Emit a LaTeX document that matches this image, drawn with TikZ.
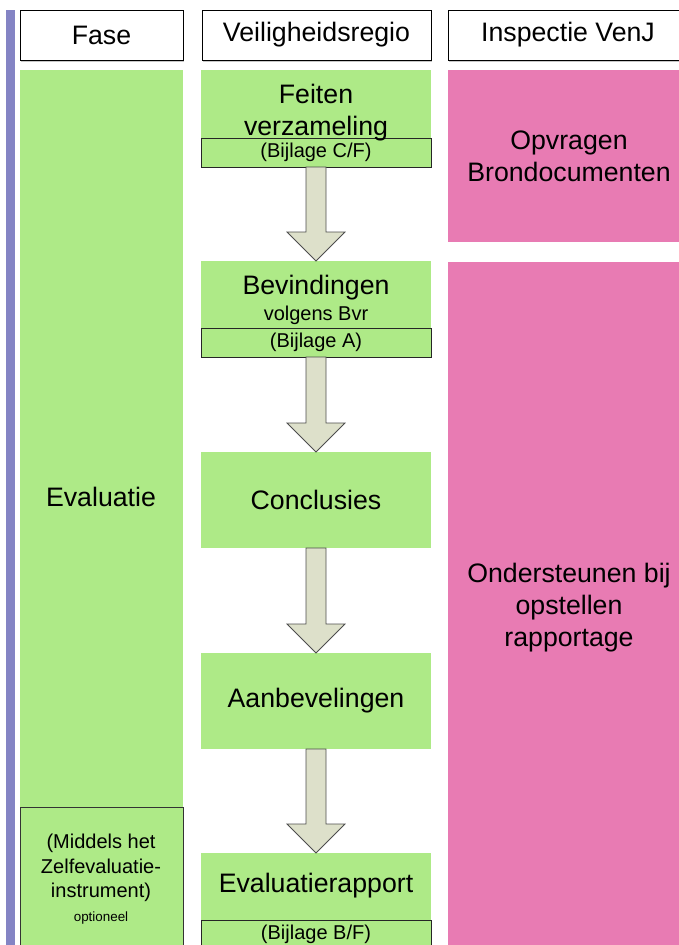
\documentclass[tikz,border=0pt]{standalone}
\usepackage{fontspec}
\setmainfont{Liberation Sans}
\usepackage{tikz}
\usetikzlibrary{positioning,calc}

\definecolor{stepgreen}{HTML}{AEEA87}
\definecolor{inspink}{HTML}{E87BB3}
\definecolor{arrowfill}{HTML}{DDE0CA}
\definecolor{arrowline}{HTML}{4D4D4D}
\definecolor{barpurple}{HTML}{8484C4}

\newcommand{\sizeL}{\fontsize{26.7}{32}\selectfont}
\newcommand{\sizeM}{\fontsize{20}{24.5}\selectfont}
\newcommand{\sizeS}{\fontsize{13.4}{16}\selectfont}

\tikzset{
    every node/.style={inner sep=0pt, outer sep=0pt},
    hdr/.style={draw=black, line width=1pt, fill=white, minimum height=50, anchor=north west, font=\sizeL},
    hdrshadow/.style={draw=black!22, line width=1.2pt},
    greenbox/.style={fill=stepgreen, minimum width=230, anchor=north west},
    subbox/.style={draw=black!85, line width=0.8pt, fill=stepgreen, minimum width=230, minimum height=29, font=\sizeM},
    pinkbox/.style={fill=inspink, minimum width=242, anchor=north west, font=\sizeL, align=center},
    blockarrow/.style={draw=arrowline, fill=arrowfill, line width=0.8pt},
}

\begin{document}
\begin{tikzpicture}[x=1pt, y=-1pt]
    \useasboundingbox (0,0) rectangle (679,945);
    \clip (0,0) rectangle (679,945);

    % side bar
    \path[fill=barpurple] (6,10) rectangle (15,945);

    % column headers
    \node[hdr, minimum width=163] (fase) at (20,10) {Fase};
    \node[hdr, minimum width=229] (regio) at (202,10) {Veiligheidsregio};
    \node[hdr, minimum width=240] (inspectie) at (448,10) {Inspectie VenJ};
    \path[hdrshadow] ($(fase.south west)+(1,1.6)$) -- ($(fase.south east)+(1,1.6)$);
    \path[hdrshadow] ($(regio.south west)+(1,1.6)$) -- ($(regio.south east)+(1,1.6)$);
    \path[hdrshadow] ($(inspectie.south west)+(1,1.6)$) -- ($(inspectie.south east)+(1,1.6)$);

    % fase column
    \node[fill=stepgreen, minimum width=163, minimum height=737, anchor=north west] (fasecol) at (20,70) {};
    \node[draw=black!80, line width=0.8pt, fill=stepgreen, minimum width=163, minimum height=150, below=0pt of fasecol] (middels) {};

    % veiligheidsregio steps
    \node[greenbox, minimum height=68] (feiten) at (201,70) {};
    \node[subbox, below=0pt of feiten] (feitensub) {(Bijlage C/F)};
    \node[greenbox, minimum height=67] (bevind) at (201,261) {};
    \node[subbox, below=0pt of bevind] (bevindsub) {(Bijlage A)};
    \node[greenbox, minimum height=96, font=\sizeL] (concl) at (201,452) {Conclusies};
    \node[greenbox, minimum height=96, font=\sizeL] (aanbev) at (201,653) {Aanbevelingen};
    \node[greenbox, minimum height=67] (evalrap) at (201,853) {};
    \node[subbox, below=0pt of evalrap] (evalrapsub) {(Bijlage B/F)};

    % inspectie column
    \node[pinkbox, minimum height=172] (opvragen) at (448,70) {Opvragen\\Brondocumenten};
    \node[pinkbox, minimum height=692] (onderst) at (448,262) {Ondersteunen bij\\opstellen\\rapportage};

    % arrows between the steps
    \path[blockarrow] ($(feitensub.south)+(-10,0)$) -- ($(bevind.north)+(-10,-29)$) -- ($(bevind.north)+(-29,-29)$) -- (bevind.north)
        -- ($(bevind.north)+(29,-29)$) -- ($(bevind.north)+(10,-29)$) -- ($(feitensub.south)+(10,0)$) -- cycle;
    \path[blockarrow] ($(bevindsub.south)+(-10,0)$) -- ($(concl.north)+(-10,-29)$) -- ($(concl.north)+(-29,-29)$) -- (concl.north)
        -- ($(concl.north)+(29,-29)$) -- ($(concl.north)+(10,-29)$) -- ($(bevindsub.south)+(10,0)$) -- cycle;
    \path[blockarrow] ($(concl.south)+(-10,0)$) -- ($(aanbev.north)+(-10,-29)$) -- ($(aanbev.north)+(-29,-29)$) -- (aanbev.north)
        -- ($(aanbev.north)+(29,-29)$) -- ($(aanbev.north)+(10,-29)$) -- ($(concl.south)+(10,0)$) -- cycle;
    \path[blockarrow] ($(aanbev.south)+(-10,0)$) -- ($(evalrap.north)+(-10,-29)$) -- ($(evalrap.north)+(-29,-29)$) -- (evalrap.north)
        -- ($(evalrap.north)+(29,-29)$) -- ($(evalrap.north)+(10,-29)$) -- ($(aanbev.south)+(10,0)$) -- cycle;

    % texts
    \node[font=\sizeL, anchor=base] (evaltxt) at (101,506) {Evaluatie};
    \node[font=\sizeM, align=center, anchor=north] (middelstxt) at (101,834) {(Middels het\\Zelfevaluatie-\\instrument)\\[-1pt]{\sizeS optioneel}};
    \node[font=\sizeL, align=center, anchor=north] (feitentxt) at (316,84) {Feiten\\verzameling};
    \node[font=\sizeL, align=center, anchor=north] (bevindtxt) at (316,275) {Bevindingen\\[-6pt]{\sizeM volgens Bvr}};
    \node[font=\sizeL, anchor=base] (evalraptxt) at (316,892) {Evaluatierapport};
\end{tikzpicture}
\end{document}
